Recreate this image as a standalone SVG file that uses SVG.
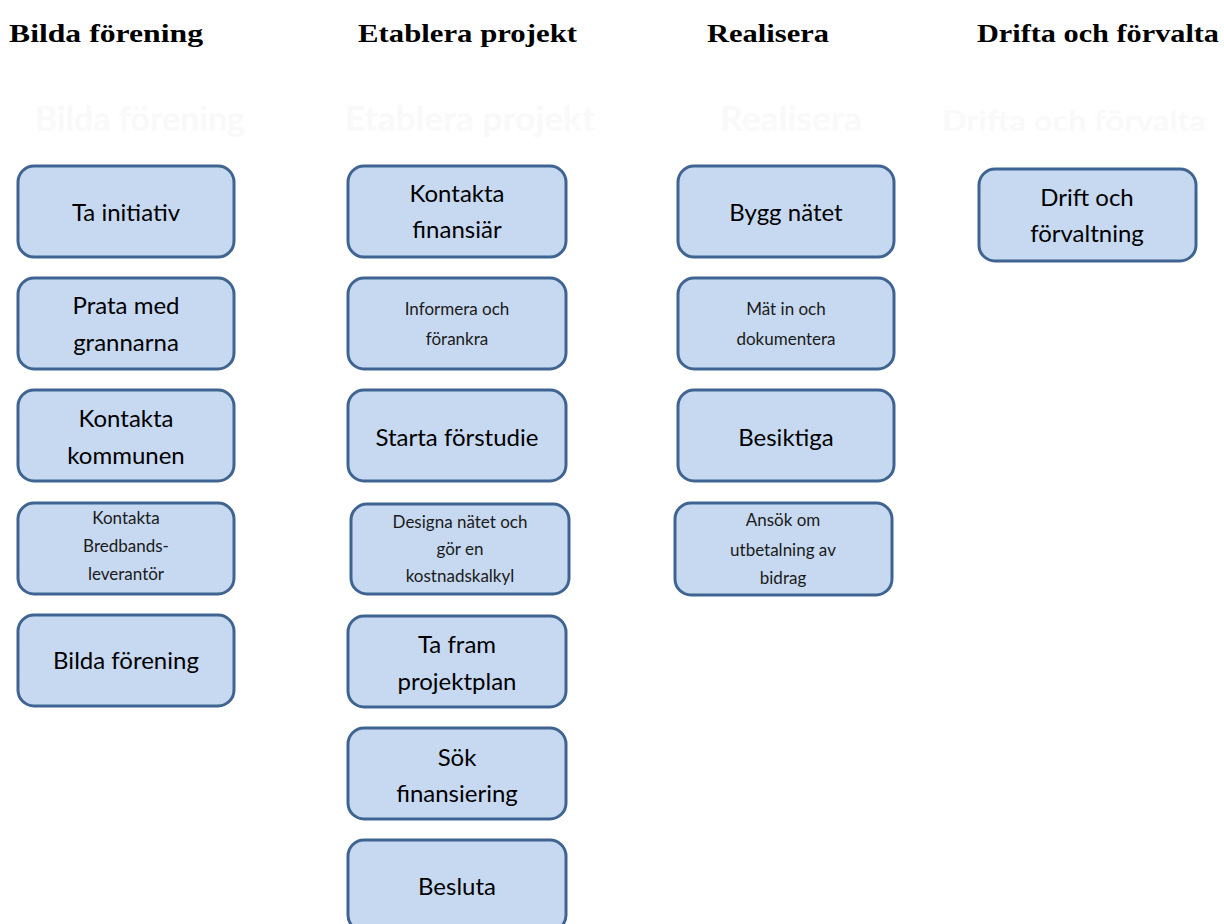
<svg xmlns="http://www.w3.org/2000/svg" width="1224" height="924" viewBox="0 0 1224 924">
<style>
.box{fill:#c7d9f0;stroke:#3f6491;stroke-width:3}
.hd{font-family:"Liberation Serif",serif;font-weight:bold;font-size:26px;fill:#000}
.gh{font-family:"Lato","Liberation Sans",sans-serif;font-weight:bold;font-size:34px;fill:#f9f9f9}
.lg{font-family:"Lato","Liberation Sans",sans-serif;font-size:24px;fill:#000;text-anchor:middle}
.sm{font-family:"Lato","Liberation Sans",sans-serif;font-size:17px;fill:#1a1a1a;text-anchor:middle}
</style>
<rect width="1224" height="924" fill="#fff"/>
<g id="headers">
<text class="hd" x="9" y="42" textLength="194" lengthAdjust="spacingAndGlyphs">Bilda förening</text>
<text class="hd" x="358" y="42" textLength="219" lengthAdjust="spacingAndGlyphs">Etablera projekt</text>
<text class="hd" x="707" y="42" textLength="122" lengthAdjust="spacingAndGlyphs">Realisera</text>
<text class="hd" x="977" y="42" textLength="242" lengthAdjust="spacingAndGlyphs">Drifta och förvalta</text>
</g>
<g id="ghosts">
<text class="gh" x="35" y="131" textLength="210" lengthAdjust="spacingAndGlyphs">Bilda förening</text>
<text class="gh" x="345" y="131" textLength="250" lengthAdjust="spacingAndGlyphs">Etablera projekt</text>
<text class="gh" x="720" y="131" textLength="142" lengthAdjust="spacingAndGlyphs">Realisera</text>
<text class="gh" x="942" y="131" style="font-size:28px" textLength="264" lengthAdjust="spacingAndGlyphs">Drifta och förvalta</text>
</g>
<g id="connectors"></g>
<g id="n-ta-initiativ"><rect class="box" x="18" y="166" width="216" height="91" rx="16"/><text class="lg" x="126" y="221">Ta initiativ</text></g>
<g id="n-prata"><rect class="box" x="18" y="278" width="216" height="91" rx="16"/><text class="lg" x="126" y="314">Prata med</text><text class="lg" x="126" y="351">grannarna</text></g>
<g id="n-kommunen"><rect class="box" x="18" y="390" width="216" height="91" rx="16"/><text class="lg" x="126" y="427">Kontakta</text><text class="lg" x="126" y="464">kommunen</text></g>
<g id="n-bredband"><rect class="box" x="18" y="503" width="216" height="91" rx="16"/><text class="sm" x="126" y="524">Kontakta</text><text class="sm" x="126" y="552">Bredbands-</text><text class="sm" x="126" y="580">leverantör</text></g>
<g id="n-bilda"><rect class="box" x="18" y="615" width="216" height="91" rx="16"/><text class="lg" x="126" y="669">Bilda förening</text></g>
<g id="n-finansiar"><rect class="box" x="348" y="166" width="218" height="91" rx="16"/><text class="lg" x="457" y="202">Kontakta</text><text class="lg" x="457" y="238">finansiär</text></g>
<g id="n-informera"><rect class="box" x="348" y="278" width="218" height="91" rx="16"/><text class="sm" x="457" y="315">Informera och</text><text class="sm" x="457" y="345">förankra</text></g>
<g id="n-forstudie"><rect class="box" x="348" y="390" width="218" height="91" rx="16"/><text class="lg" x="457" y="446">Starta förstudie</text></g>
<g id="n-designa"><rect class="box" x="351" y="504" width="218" height="90" rx="16"/><text class="sm" x="460" y="528">Designa nätet och</text><text class="sm" x="460" y="555">gör en</text><text class="sm" x="460" y="582">kostnadskalkyl</text></g>
<g id="n-projektplan"><rect class="box" x="348" y="616" width="218" height="91" rx="16"/><text class="lg" x="457" y="653">Ta fram</text><text class="lg" x="457" y="690">projektplan</text></g>
<g id="n-finansiering"><rect class="box" x="348" y="728" width="218" height="91" rx="16"/><text class="lg" x="457" y="766">Sök</text><text class="lg" x="457" y="802">finansiering</text></g>
<g id="n-besluta"><rect class="box" x="348" y="840" width="218" height="91" rx="16"/><text class="lg" x="457" y="895">Besluta</text></g>
<g id="n-bygg"><rect class="box" x="678" y="166" width="216" height="91" rx="16"/><text class="lg" x="786" y="221">Bygg nätet</text></g>
<g id="n-mat"><rect class="box" x="678" y="278" width="216" height="91" rx="16"/><text class="sm" x="786" y="315">Mät in och</text><text class="sm" x="786" y="345">dokumentera</text></g>
<g id="n-besiktiga"><rect class="box" x="678" y="390" width="216" height="91" rx="16"/><text class="lg" x="786" y="446">Besiktiga</text></g>
<g id="n-ansok"><rect class="box" x="675" y="503" width="217" height="92" rx="16"/><text class="sm" x="783" y="526">Ansök om</text><text class="sm" x="783" y="556">utbetalning av</text><text class="sm" x="783" y="584">bidrag</text></g>
<g id="n-drift"><rect class="box" x="979" y="169" width="217" height="92" rx="16"/><text class="lg" x="1087" y="206">Drift och</text><text class="lg" x="1087" y="242">förvaltning</text></g>
</svg>
